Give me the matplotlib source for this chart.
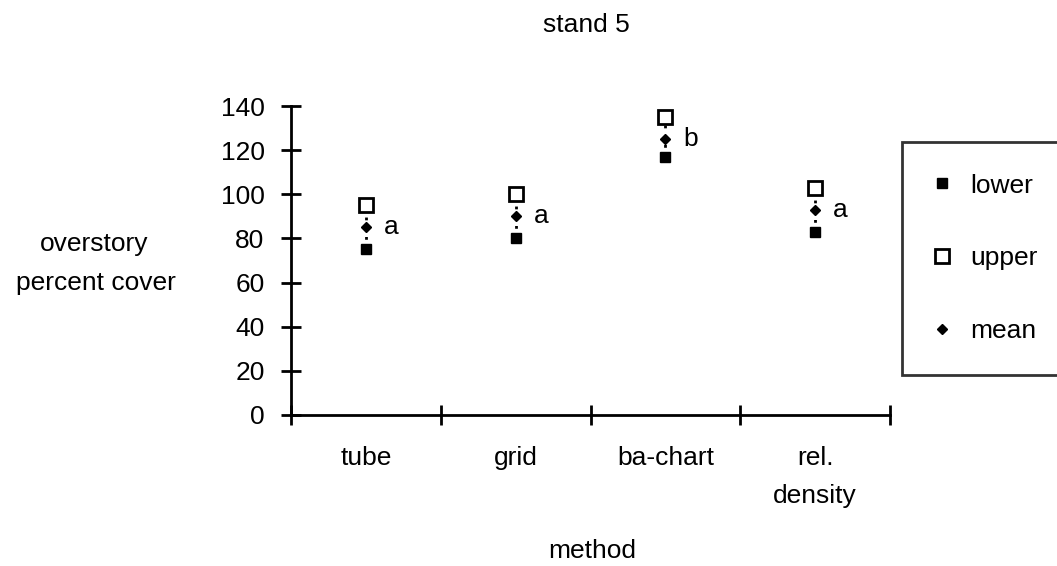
import matplotlib
matplotlib.use("Agg")
import matplotlib.pyplot as plt
from matplotlib.ticker import FixedLocator, NullFormatter

plt.rcParams['font.family'] = ['Liberation Sans', 'DejaVu Sans']
plt.rcParams['font.size'] = 19

methods = ["tube", "grid", "ba-chart", "rel.\ndensity"]
lower = [75, 80, 117, 83]
upper = [95, 100, 135, 103]
mean = [85, 90, 125, 93]
letters = ["a", "a", "b", "a"]

x = list(range(1, len(methods) + 1))

fig = plt.figure(figsize=(10.57, 5.66), dpi=100)
ax = fig.add_axes([291/1057, 1-415/566, (890-291)/1057, (415-106)/566])

ax.vlines(x, lower, upper, colors='k', linestyles=(0, (1, 2.5)), lw=2, zorder=1)
ax.plot(x, lower, 's', color='k', ms=6.5, ls='none', label='lower', zorder=3)
ax.plot(x, upper, 's', mfc='white', mec='k', mew=2, ms=10, ls='none', label='upper', zorder=3)
ax.plot(x, mean, 'D', color='k', ms=5, ls='none', label='mean', zorder=3)

for xi, m, t in zip(x, mean, letters):
    ax.annotate(t, (xi, m), xytext=(13, 0), textcoords='offset points',
                va='center', ha='left')

ax.set_xlim(0.5, len(methods) + 0.5)
ax.set_ylim(0, 140)
ax.set_yticks(range(0, 141, 20))
ax.xaxis.set_major_locator(FixedLocator([i + 0.5 for i in range(len(methods) + 1)]))
ax.xaxis.set_major_formatter(NullFormatter())
ax.xaxis.set_minor_locator(FixedLocator(x))
ax.set_xticklabels(methods, minor=True, linespacing=1.75, va='top')
ax.tick_params(which='minor', axis='x', length=0, pad=22)
ax.tick_params(which='major', direction='inout', length=14, width=2, colors='k')
ax.tick_params(axis='y', pad=12)

for s in ['top', 'right']:
    ax.spines[s].set_visible(False)
for s in ['left', 'bottom']:
    ax.spines[s].set_linewidth(2)

fig.text(586/1057, 1-25/566, "stand 5", ha='center', va='center')
fig.text(592/1057, 1-551/566, "method", ha='center', va='center')
fig.text(94/1057, 1-244/566, "overstory", ha='center', va='center')
fig.text(96/1057, 1-283/566, "percent cover", ha='center', va='center')

# legend box runs off the right edge like the original
leg = fig.legend(loc='upper left', bbox_to_anchor=(902/1057, 1-142/566-0.01, 200/1057, 0.01),
                 bbox_transform=fig.transFigure, mode='expand', frameon=True,
                 fancybox=False, edgecolor='k', labelspacing=1.85, handletextpad=0.75,
                 borderpad=1.2, handlelength=0.65, borderaxespad=0)
leg.get_frame().set_linewidth(2)

fig.savefig("out.png", dpi=100)
